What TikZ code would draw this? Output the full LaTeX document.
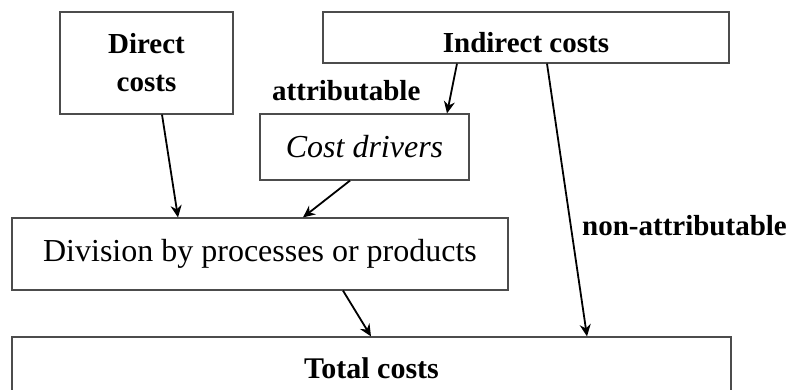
\documentclass[tikz,border=0pt]{standalone}
\usepackage{fontspec}
\setmainfont{Liberation Serif}
\usetikzlibrary{arrows.meta,calc}
\begin{document}
\begin{tikzpicture}[x=1pt,y=-1pt,
  box/.style={draw=black!70,line width=1.2pt,rectangle,inner sep=0pt,align=center},
  bold/.style={font=\fontsize{29}{38}\selectfont\bfseries},
  plain/.style={font=\fontsize{32}{38}\selectfont},
  ital/.style={font=\fontsize{32}{38}\selectfont\itshape},
  conn/.style={line width=1.8pt,-{Stealth[length=12pt,width=11pt]}},
  lbl/.style={inner sep=0pt,anchor=base west}
]
\clip (0,0) rectangle (787,389);
\node[box,bold,minimum width=173pt,minimum height=102pt] (direct) at (146.5,63) {Direct\\costs};
\node[box,bold,minimum width=406pt,minimum height=51pt,text height=29pt,text depth=0pt] (indirect) at (526,37.5) {Indirect costs};
\node[box,ital,minimum width=209pt,minimum height=66pt] (cost) at (364.5,147) {Cost drivers};
\node[box,plain,minimum width=496pt,minimum height=72pt] (division) at (260,254) {Division by processes or products};
\node[box,font=\fontsize{30}{38}\selectfont\bfseries,minimum width=719pt,minimum height=62pt] (total) at (371.5,368) {Total costs};
\node[lbl,bold] (attr) at (272,100) {attributable};
\node[lbl,bold] (nonattr) at (582,235) {non-attributable};
\draw[conn] ([xshift=15.5]direct.south) -- ([xshift=-82]division.north);
\draw[conn] ([xshift=-69]indirect.south) -- ([xshift=82.5]cost.north);
\draw[conn] ([xshift=-14.5]cost.south) -- ([xshift=43]division.north);
\draw[conn] ([xshift=21]indirect.south) -- ([xshift=215.5]total.north);
\draw[conn] ([xshift=83]division.south) -- ([xshift=-0.5]total.north);
\end{tikzpicture}
\end{document}
